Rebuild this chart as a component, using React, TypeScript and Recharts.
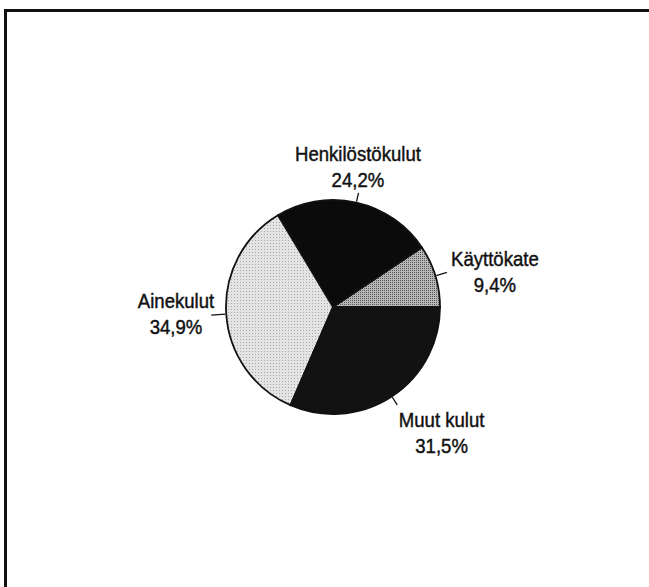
import { Cell, Pie, PieChart } from "recharts";

const categories = ["Käyttökate", "Henkilöstökulut", "Ainekulut", "Muut kulut"];
const shares = [9.4, 24.2, 34.9, 31.5];
const shareLabels = ["9,4%", "24,2%", "34,9%", "31,5%"];

const fills = ["url(#dotsMid)", "#0b0b0b", "url(#dotsLight)", "#121212"];
// label anchor: angle shift from slice middle (deg), distance from centre (px)
const labelLayout = [
  { shift: -2.7, dist: 167, lead: 12 },
  { shift: 2.9, dist: 148, lead: 10 },
  { shift: -3.5, dist: 157, lead: 15 },
  { shift: 8.8, dist: 162, lead: 10 },
];

const data = categories.map((name, i) => ({ name, value: shares[i], pct: shareLabels[i] }));

const RAD = Math.PI / 180;

function SliceLabel(props: any) {
  const { cx, cy, midAngle, outerRadius, index } = props;
  const lay = labelLayout[index];
  const a = (midAngle + lay.shift) * RAD;
  const x = cx + lay.dist * Math.cos(a);
  const y = cy - lay.dist * Math.sin(a);
  const m = midAngle * RAD;
  const r0 = outerRadius + 1;
  const r1 = outerRadius + lay.lead;
  const textStyle = {
    fontFamily: "'Liberation Sans', Arial, sans-serif",
    fontSize: 21,
    fill: "#111",
    stroke: "#111",
    strokeWidth: 0.45,
  };
  return (
    <g>
      <line
        x1={cx + r0 * Math.cos(m)}
        y1={cy - r0 * Math.sin(m)}
        x2={cx + r1 * Math.cos(m)}
        y2={cy - r1 * Math.sin(m)}
        stroke="#111"
        strokeWidth={1.3}
      />
      <g transform={`translate(${x},${y}) scale(0.885,1)`}>
        <text x={0} y={0} textAnchor="middle" style={textStyle}>
          {data[index].name}
        </text>
        <text x={0} y={26} textAnchor="middle" style={textStyle}>
          {data[index].pct}
        </text>
      </g>
    </g>
  );
}

export default function App() {
  return (
    <div
      style={{
        position: "absolute",
        left: 0,
        top: 0,
        width: 649,
        height: 587,
        background: "#fff",
        overflow: "hidden",
      }}
    >
      {/* frame: only top and left edges show in the scan */}
      <div style={{ position: "absolute", left: 4, top: 9, width: 645, height: 2.5, background: "#111" }} />
      <div style={{ position: "absolute", left: 4, top: 9, width: 2.5, height: 578, background: "#111" }} />
      <div style={{ position: "absolute", left: 0, top: 0 }}>
        <PieChart width={649} height={587}>
          <defs>
            <pattern id="dotsMid" width="2" height="2" patternUnits="userSpaceOnUse">
              <rect width="2" height="2" fill="#b8b8b8" />
              <rect width="1" height="1" fill="#555" />
            </pattern>
            <pattern id="dotsLight" width="3" height="3" patternUnits="userSpaceOnUse">
              <rect width="3" height="3" fill="#e4e4e4" />
              <rect width="1" height="1" fill="#a8a8a8" />
            </pattern>
          </defs>
          <Pie
            data={data}
            dataKey="value"
            nameKey="name"
            cx={328}
            cy={302}
            outerRadius={107}
            startAngle={0}
            endAngle={360}
            stroke="#111"
            strokeWidth={1.8}
            label={SliceLabel}
            labelLine={false}
            isAnimationActive={false}
          >
            {data.map((d, i) => (
              <Cell key={d.name} fill={fills[i]} />
            ))}
          </Pie>
        </PieChart>
      </div>
    </div>
  );
}
